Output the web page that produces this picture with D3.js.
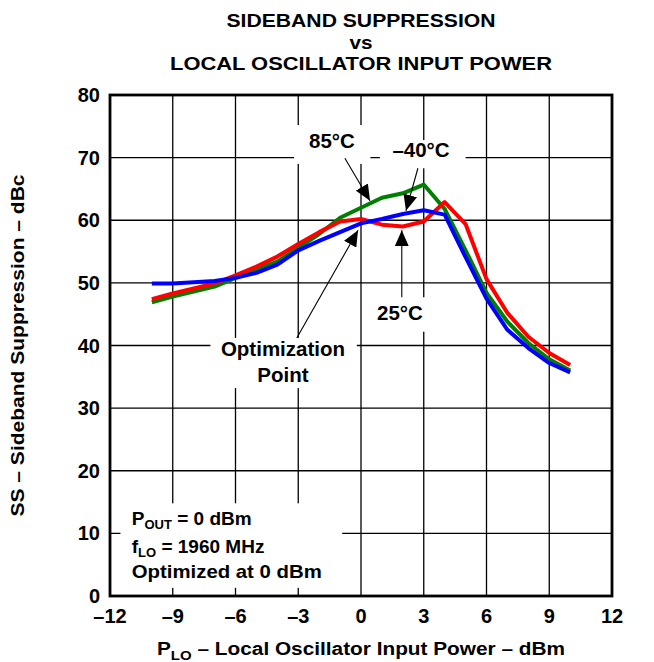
<!DOCTYPE html>
<html>
<head>
<meta charset="utf-8">
<script src="https://cdn.jsdelivr.net/npm/d3@7"></script>
<style>
  body { margin: 0; background: #fff; }
  text { font-family: Arial, "Liberation Sans", Helvetica, sans-serif; font-weight: bold; fill: #000; }
</style>
</head>
<body>
<div id="chart"></div>
<script>
// P_LO in dBm
var plo = [-10, -9, -8, -7, -6, -5, -4, -3, -2, -1, 0, 1, 2, 3, 4, 5, 6, 7, 8, 9, 10]

// sideband suppression, dBc
var ss85 = [46.9, 47.8, 48.6, 49.4, 50.8, 52.1, 53.4, 55.6, 57.8, 60.4, 62.0, 63.6, 64.3, 65.7, 61.8, 55.2, 48.4, 43.8, 40.4, 37.8, 36.0]
var ss25 = [47.4, 48.3, 49.1, 49.9, 51.2, 52.6, 54.2, 56.2, 58.1, 59.8, 60.2, 59.3, 59.0, 59.8, 62.9, 59.4, 50.6, 45.2, 41.4, 38.8, 36.9]
var ssM40 = [49.9, 49.9, 50.1, 50.3, 50.8, 51.6, 52.9, 55.2, 56.7, 58.1, 59.5, 60.2, 61.0, 61.6, 60.9, 54.1, 47.5, 42.5, 39.6, 37.2, 35.7]

var xTicks = [-12, -9, -6, -3, 0, 3, 6, 9, 12]
var yTicks = [0, 10, 20, 30, 40, 50, 60, 70, 80]

var series = [
  { name: "85°C", values: ss85, color: "#008000" },
  { name: "25°C", values: ss25, color: "#ff0000" },
  { name: "–40°C", values: ssM40, color: "#0000ff" }
]

const W = 654, H = 662
const margin = { left: 110, right: 42, top: 95, bottom: 66 }

const svg = d3.select("#chart").append("svg")
  .attr("width", W)
  .attr("height", H)

const x = d3.scaleLinear().domain([-12, 12]).range([margin.left, W - margin.right])
const y = d3.scaleLinear().domain([0, 80]).range([H - margin.bottom, margin.top])

// grid
const grid = svg.append("g").attr("stroke", "#000").attr("stroke-width", 1.3)
grid.selectAll("line.v").data(xTicks.slice(1, -1)).join("line")
  .attr("x1", d => x(d)).attr("x2", d => x(d))
  .attr("y1", y(0)).attr("y2", y(80))
grid.selectAll("line.h").data(yTicks.slice(1, -1)).join("line")
  .attr("class", "h")
  .attr("x1", x(-12)).attr("x2", x(12))
  .attr("y1", d => y(d)).attr("y2", d => y(d))

// white boxes behind labels (in data units)
var boxes = [
  [-3.2, 0.45, 75.2, 69.0],
  [0.9, 5.0, 72.8, 68.3],
  [0.4, 3.3, 47.7, 42.2],
  [-7.2, -0.2, 41.2, 33.2],
  [-11.5, -0.9, 14.8, 1.3]
]
svg.append("g").selectAll("rect").data(boxes).join("rect")
  .attr("x", d => x(d[0])).attr("width", d => x(d[1]) - x(d[0]))
  .attr("y", d => y(d[2])).attr("height", d => y(d[3]) - y(d[2]))
  .attr("fill", "#fff")

// frame
svg.append("rect")
  .attr("x", x(-12)).attr("y", y(80))
  .attr("width", x(12) - x(-12)).attr("height", y(0) - y(80))
  .attr("fill", "none").attr("stroke", "#000").attr("stroke-width", 2.8)

// tick labels
svg.append("g").selectAll("text").data(xTicks).join("text")
  .attr("x", d => x(d)).attr("y", y(0) + 27)
  .attr("text-anchor", "middle")
  .attr("font-size", 20)
  .text(d => d < 0 ? "–" + Math.abs(d) : d)

svg.append("g").selectAll("text").data(yTicks).join("text")
  .attr("x", x(-12) - 10).attr("y", d => y(d) + 7)
  .attr("text-anchor", "end")
  .attr("font-size", 20)
  .text(d => d)

// curves
const line = d3.line()
  .x((d, i) => x(plo[i]))
  .y(d => y(d))

svg.append("g").selectAll("path").data(series).join("path")
  .attr("d", d => line(d.values))
  .attr("fill", "none")
  .attr("stroke", d => d.color)
  .attr("stroke-width", 4)
  .attr("stroke-linejoin", "round")

// arrows
svg.append("defs").append("marker")
  .attr("id", "head")
  .attr("viewBox", "0 0 16 14")
  .attr("refX", 16).attr("refY", 7)
  .attr("markerWidth", 16).attr("markerHeight", 14)
  .attr("markerUnits", "userSpaceOnUse")
  .attr("orient", "auto")
  .append("path").attr("d", "M0,0L16,7L0,14Z").attr("fill", "#000")

var arrows = [
  [-0.77, 69.9, 0.43, 63.1],
  [2.72, 68.3, 2.15, 61.5],
  [1.95, 47.7, 1.95, 58.4],
  [-3.07, 41.2, -0.14, 58.4]
]
svg.append("g").selectAll("line").data(arrows).join("line")
  .attr("x1", d => x(d[0])).attr("y1", d => y(d[1]))
  .attr("x2", d => x(d[2])).attr("y2", d => y(d[3]))
  .attr("stroke", "#000").attr("stroke-width", 1.1)
  .attr("marker-end", "url(#head)")

var notes = [
  { t: "85°C", x: -1.39, y: 71.5 },
  { t: "–40°C", x: 2.87, y: 70.1 },
  { t: "25°C", x: 1.86, y: 44.1 },
  { t: "Optimization", x: -3.73, y: 38.3 },
  { t: "Point", x: -3.73, y: 34.2 }
]
svg.append("g").selectAll("text").data(notes).join("text")
  .attr("x", d => x(d.x)).attr("y", d => y(d.y))
  .attr("text-anchor", "middle")
  .attr("font-size", 20.5)
  .text(d => d.t)

// conditions box
const cond = svg.append("g").attr("font-size", 19)
var t1 = cond.append("text").attr("x", x(-10.96)).attr("y", y(11.3))
t1.append("tspan").text("P")
t1.append("tspan").attr("font-size", 13).attr("dy", 4).text("OUT")
t1.append("tspan").attr("dy", -4).text(" = 0 dBm")
var t2 = cond.append("text").attr("x", x(-10.96)).attr("y", y(6.85))
t2.append("tspan").text("f")
t2.append("tspan").attr("font-size", 13).attr("dy", 4).text("LO")
t2.append("tspan").attr("dy", -4).text(" = 1960 MHz")
cond.append("text").attr("x", x(-10.96)).attr("y", y(2.95))
  .attr("textLength", 190).attr("lengthAdjust", "spacingAndGlyphs")
  .text("Optimized at 0 dBm")

// titles
const cx = (x(-12) + x(12)) / 2
var title = ["SIDEBAND SUPPRESSION", "vs", "LOCAL OSCILLATOR INPUT POWER"]
var titleLen = [269, 23, 382]
svg.append("g").selectAll("text").data(title).join("text")
  .attr("x", cx).attr("y", (d, i) => 27 + i * 21.5)
  .attr("text-anchor", "middle")
  .attr("font-size", 19)
  .attr("textLength", (d, i) => titleLen[i])
  .attr("lengthAdjust", "spacingAndGlyphs")
  .text(d => d)

var xl = svg.append("text").attr("x", cx).attr("y", 655)
  .attr("text-anchor", "middle").attr("font-size", 18)
  .attr("textLength", 408).attr("lengthAdjust", "spacingAndGlyphs")
xl.append("tspan").text("P")
xl.append("tspan").attr("font-size", 13).attr("dy", 5).text("LO")
xl.append("tspan").attr("dy", -5).text(" – Local Oscillator Input Power – dBm")

svg.append("text")
  .attr("transform", `translate(24,${(y(0) + y(80)) / 2}) rotate(-90)`)
  .attr("text-anchor", "middle").attr("font-size", 18)
  .attr("textLength", 342).attr("lengthAdjust", "spacingAndGlyphs")
  .text("SS – Sideband Suppression – dBc")
</script>
</body>
</html>
